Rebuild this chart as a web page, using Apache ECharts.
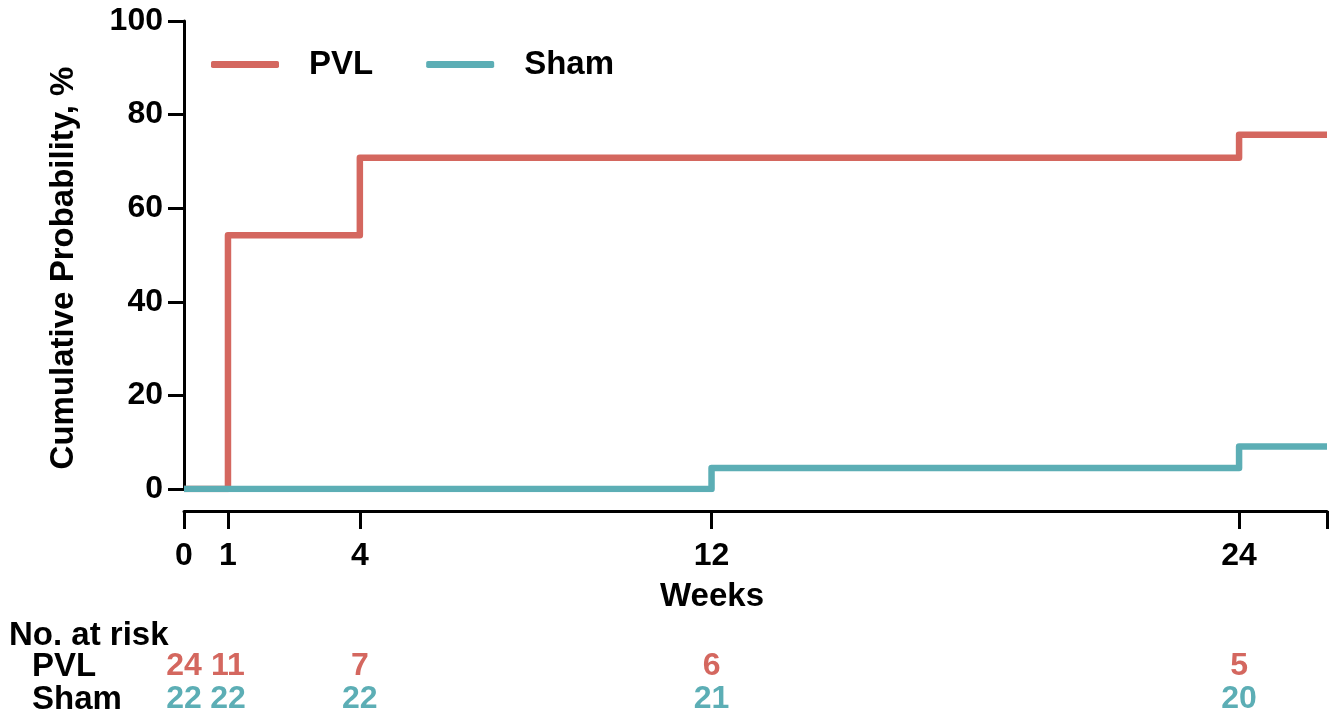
<!DOCTYPE html>
<html>
<head>
<meta charset="utf-8">
<script src="https://cdn.jsdelivr.net/npm/echarts@6/dist/echarts.min.js"></script>
<style>
html,body{margin:0;padding:0;background:#fff;}
#chart{width:1338px;height:716px;}
</style>
</head>
<body>
<div id="chart"></div>
<script>
// ---- data ----
const riskTimes = [0, 1, 4, 12, 24];
const pvlRisk = [24, 11, 7, 6, 5];
const shamRisk = [22, 22, 22, 21, 20];
// Kaplan-Meier cumulative probability (%) step points [week, %]
const pvlTimes = [0, 1, 4, 24, 26];
const pvlValues = [0, 54.2, 70.8, 75.7, 75.7];
const shamTimes = [0, 12, 24, 26];
const shamValues = [0, 4.5, 9.1, 9.1];
const xTicks = [0, 1, 4, 12, 24, 26];
const xLabels = [0, 1, 4, 12, 24];
const rowNames = ['PVL', 'Sham'];
const xTitle = 'Weeks';
const yTitle = 'Cumulative Probability, %';
const riskTitle = 'No. at risk';

const RED = '#D4675F';
const TEAL = '#5CAEB5';
const FONT = 'Liberation Sans, Arial, Helvetica, sans-serif';
const TXT = 33;
const NUM = 32;

const chart = echarts.init(document.getElementById('chart'), null, {renderer: 'canvas'});

const pvlData = pvlTimes.map((t, i) => [t, pvlValues[i]]);
const shamData = shamTimes.map((t, i) => [t, shamValues[i]]);
const pvlRiskData = riskTimes.map((t, i) => [t, 'PVL', pvlRisk[i]]);
const shamRiskData = riskTimes.map((t, i) => [t, 'Sham', shamRisk[i]]);

const option = {
  animation: false,
  backgroundColor: '#fff',
  textStyle: {fontFamily: FONT},
  legend: {
    left: 206,
    top: 43,
    itemWidth: 68,
    itemHeight: 7,
    itemGap: 53,
    icon: 'roundRect',
    textStyle: {fontFamily: FONT, fontSize: TXT, fontWeight: 'bold', color: '#000', padding: [0, 0, 0, 25]},
    data: ['PVL', 'Sham']
  },
  grid: [
    {left: 184, right: 11, top: 21, bottom: 227, containLabel: false},
    {left: 184, right: 11, top: 650, height: 66, containLabel: false}
  ],
  xAxis: [
    {
      gridIndex: 0,
      type: 'value',
      min: 0,
      max: 26,
      offset: 22,
      axisLine: {show: true, onZero: false, lineStyle: {color: '#000', width: 3}},
      axisTick: {show: true, length: 18, lineStyle: {color: '#000', width: 3}, customValues: xTicks},
      axisLabel: {fontFamily: FONT, fontSize: NUM, fontWeight: 'bold', color: '#000', margin: 29, customValues: xLabels},
      splitLine: {show: false}
    },
    {
      gridIndex: 1,
      type: 'value',
      min: 0,
      max: 26,
      show: false
    }
  ],
  yAxis: [
    {
      gridIndex: 0,
      type: 'value',
      min: 0,
      max: 100,
      interval: 20,
      axisLine: {show: true, lineStyle: {color: '#000', width: 3}},
      axisTick: {show: true, length: 16, lineStyle: {color: '#000', width: 3}},
      axisLabel: {fontFamily: FONT, fontSize: NUM, fontWeight: 'bold', color: '#000', margin: 21},
      splitLine: {show: false}
    },
    {
      gridIndex: 1,
      type: 'category',
      inverse: true,
      data: rowNames,
      axisLine: {show: false},
      axisTick: {show: false},
      axisLabel: {interval: 0, fontFamily: FONT, fontSize: TXT, fontWeight: 'bold', color: '#000', align: 'left', margin: 152}
    }
  ],
  graphic: [
    {
      type: 'text',
      left: 9,
      top: 619,
      style: {text: riskTitle, font: 'bold ' + TXT + 'px ' + FONT, fill: '#000'}
    },
    {
      type: 'text',
      x: 712,
      y: 597,
      style: {text: xTitle, font: 'bold ' + TXT + 'px ' + FONT, fill: '#000', align: 'center', verticalAlign: 'middle'}
    },
    {
      type: 'text',
      x: 64,
      y: 268,
      rotation: Math.PI / 2,
      style: {text: yTitle, font: 'bold ' + TXT + 'px ' + FONT, fill: '#000', align: 'center', verticalAlign: 'middle'}
    }
  ],
  series: [
    {
      name: 'PVL',
      type: 'line',
      xAxisIndex: 0, yAxisIndex: 0,
      step: 'end',
      symbol: 'none',
      data: pvlData,
      color: RED,
      lineStyle: {color: RED, width: 6.5, join: 'round', cap: 'butt'},
      z: 2
    },
    {
      name: 'Sham',
      type: 'line',
      xAxisIndex: 0, yAxisIndex: 0,
      step: 'end',
      symbol: 'none',
      data: shamData,
      color: TEAL,
      lineStyle: {color: TEAL, width: 6.5, join: 'round', cap: 'butt'},
      z: 3
    },
    {
      type: 'scatter',
      xAxisIndex: 1, yAxisIndex: 1,
      symbolSize: 0,
      itemStyle: {opacity: 1, color: RED},
      data: pvlRiskData,
      label: {show: true, position: 'inside', formatter: p => p.value[2], fontFamily: FONT, fontSize: NUM, fontWeight: 'bold', color: RED},
      silent: true
    },
    {
      type: 'scatter',
      xAxisIndex: 1, yAxisIndex: 1,
      symbolSize: 0,
      itemStyle: {opacity: 1, color: TEAL},
      data: shamRiskData,
      label: {show: true, position: 'inside', formatter: p => p.value[2], fontFamily: FONT, fontSize: NUM, fontWeight: 'bold', color: TEAL},
      silent: true
    }
  ]
};
chart.setOption(option);
</script>
</body>
</html>
